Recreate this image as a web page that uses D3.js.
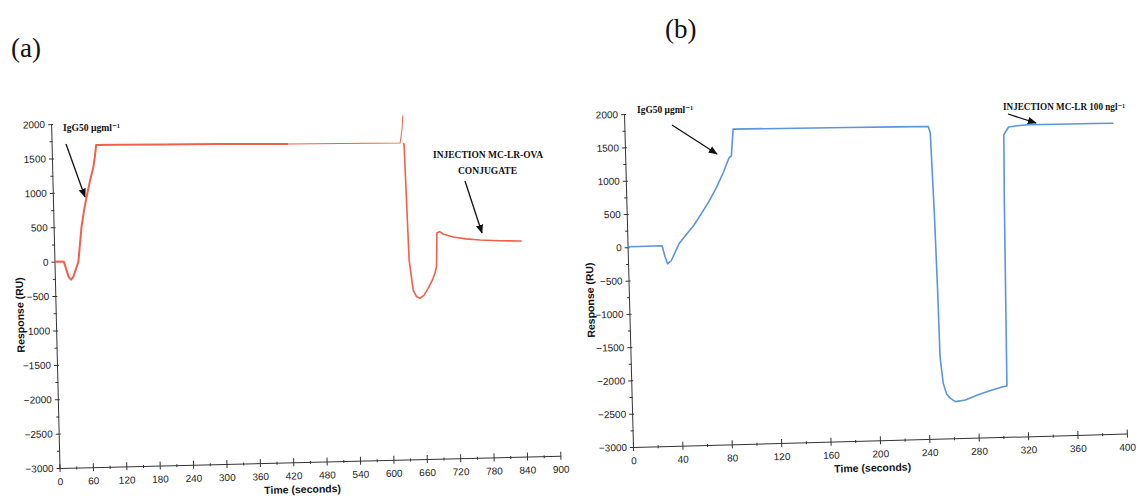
<!DOCTYPE html>
<html>
<head>
<meta charset="utf-8">
<script src="https://cdn.jsdelivr.net/npm/d3@7"></script>
<style>
  body { margin: 0; background: #fff; }
  .tick text { font-family: "Liberation Sans", Arial, sans-serif; font-size: 10px; fill: #222; }
  .atitle { font-family: "Liberation Sans", Arial, sans-serif; font-size: 10.5px; font-weight: bold; fill: #111; }
  .note { font-family: "Liberation Serif", "DejaVu Serif", "Times New Roman", serif; font-weight: bold; fill: #111; }
  .panel { font-family: "Liberation Serif", "Times New Roman", serif; font-size: 27px; fill: #111; }
</style>
</head>
<body>
<svg id="fig" width="1137" height="497"></svg>
<script>
// panel (a): IgG binding then MC-LR-OVA conjugate injection
const timeA = [0, 10, 17, 21, 25, 29, 33, 38, 43, 50, 56, 62, 68, 74, 77, 80, 120, 200, 300, 380, 425];
const respA = [0, 0, -5, -120, -230, -268, -230, -120, -10, 490, 760, 980, 1180, 1360, 1500, 1680, 1676, 1665, 1650, 1636, 1626];
const timeA2 = [425, 520, 626, 630, 632];            // thin section + spike
const respA2 = [1626, 1615, 1602, 1800, 2000];
const timeA3 = [632, 633, 637, 643, 649, 655, 662, 670, 678, 683, 686, 688, 693, 700, 717, 740, 765, 800, 840];
const respA3 = [1600, 1570, -100, -540, -640, -660, -620, -520, -400, -300, -200, 280, 300, 260, 217, 185, 163, 146, 134];

// panel (b): IgG binding then MC-LR 100 ng/l injection
const timeB = [0, 10, 20, 28, 30, 32, 35, 42, 48, 54, 61, 68, 74, 79, 84, 86, 88, 100, 140, 180, 220, 246, 247.5, 249, 250, 250.5, 252.5, 255, 258, 262, 270, 280, 290, 300, 304, 305, 306, 307, 311, 318, 327, 350, 380, 396];
const respB = [8, 6, 8, 7, -150, -265, -220, 40, 170, 300, 490, 690, 890, 1080, 1300, 1330, 1731, 1728, 1718, 1708, 1698, 1691, 1591, 400, -765, -1768, -2169, -2330, -2400, -2450, -2430, -2358, -2300, -2250, -2235, -800, 600, 1536, 1650, 1665, 1676, 1672, 1668, 1665];

const ticksA = d3.range(0, 901, 60);
const ticksB = d3.range(0, 401, 40);
const ticksY = d3.range(-3000, 2001, 500);

const svg = d3.select("#fig");

function panel(o) {
  const g = svg.append("g")
      .attr("transform", "translate(" + o.ox + "," + o.oy + ") rotate(" + o.angle + ") translate(0," + (-o.h) + ")");

  const x = d3.scaleLinear().domain(o.xdom).range([0, o.w]);
  const y = d3.scaleLinear().domain([-3000, 2000]).range([o.h, 0]);

  // minor ticks
  g.append("g")
      .attr("transform", "translate(0," + o.h + ")")
      .call(d3.axisBottom(x).tickValues(o.minorX).tickSize(2).tickSizeOuter(0).tickFormat(""))
      .call(a => a.select(".domain").remove())
      .selectAll("line").attr("y1", -1).attr("stroke", "#333");
  g.append("g")
      .call(d3.axisLeft(y).tickValues(d3.range(-2750, 2000, 500)).tickSize(2).tickFormat(""))
      .call(a => a.select(".domain").remove())
      .selectAll("line").attr("x1", 1).attr("stroke", "#333");

  const xa = g.append("g")
      .attr("transform", "translate(0," + o.h + ")")
      .call(d3.axisBottom(x).tickValues(o.ticks).tickSize(4).tickPadding(6).tickSizeOuter(0).tickFormat(d3.format("d")));
  xa.selectAll(".tick line").attr("y1", -4).attr("stroke", "#333");
  xa.select(".domain").attr("stroke", "#333");

  const ya = g.append("g")
      .call(d3.axisLeft(y).tickValues(ticksY).tickSize(3).tickPadding(3).tickSizeOuter(0).tickFormat(d3.format("d")));
  ya.selectAll(".tick line").attr("x1", 2).attr("stroke", "#333");
  ya.select(".domain").attr("stroke", "#333");

  const line = d3.line().x(d => x(d[0])).y(d => y(d[1]));
  o.series.forEach(s => {
    g.append("path")
        .datum(d3.zip(s.t, s.v))
        .attr("fill", "none")
        .attr("stroke", o.color)
        .attr("stroke-width", s.sw)
        .attr("stroke-linejoin", "round")
        .attr("d", line);
  });

  g.append("text")
      .attr("class", "atitle")
      .attr("transform", "translate(" + o.ytx + "," + o.yty + ") rotate(-90)")
      .attr("text-anchor", "middle")
      .text("Response (RU)");
  g.append("text")
      .attr("class", "atitle")
      .attr("x", o.w / 2 - 8)
      .attr("y", o.h + o.xty)
      .attr("text-anchor", "middle")
      .text("Time (seconds)");
}

panel({
  ox: 59.5, oy: 468, w: 501, h: 344, angle: -1.4,
  xdom: [0, 900], ticks: ticksA, minorX: d3.range(30, 900, 60),
  color: "#f0604c",
  ytx: -32, yty: 190, xty: 31,
  series: [{t: timeA, v: respA, sw: 2}, {t: timeA2, v: respA2, sw: 1}, {t: timeA3, v: respA3, sw: 1.6}]
});

panel({
  ox: 633, oy: 447, w: 494, h: 333, angle: -1.55,
  xdom: [0, 400], ticks: ticksB, minorX: d3.range(20, 400, 40),
  color: "#5b95dc",
  ytx: -35, yty: 185, xty: 31,
  series: [{t: timeB, v: respB, sw: 1.6}]
});

// arrows and notes
const defs = svg.append("defs");
defs.append("marker")
    .attr("id", "ah")
    .attr("viewBox", "0 0 10 10")
    .attr("refX", 9).attr("refY", 5)
    .attr("markerWidth", 7).attr("markerHeight", 7)
    .attr("orient", "auto")
  .append("path")
    .attr("d", "M0,1 L10,5 L0,9 z")
    .attr("fill", "#111");

const arrows = [[66, 144, 85, 197], [465, 181, 482, 233], [672, 125, 717, 154], [1008, 114, 1036, 123]];
svg.selectAll(".arr")
  .data(arrows)
  .enter()
  .append("line")
    .attr("x1", d => d[0]).attr("y1", d => d[1])
    .attr("x2", d => d[2]).attr("y2", d => d[3])
    .attr("stroke", "#111")
    .attr("stroke-width", 1.3)
    .attr("marker-end", "url(#ah)");

function note(xp, yp, txt, len, fs) {
  svg.append("text")
      .attr("class", "note")
      .attr("x", xp).attr("y", yp)
      .style("font-size", fs + "px")
      .attr("textLength", len)
      .attr("lengthAdjust", "spacingAndGlyphs")
      .text(txt);
}
note(63, 131, "IgG50 μgml⁻¹", 57, 11);
note(433, 158, "INJECTION MC-LR-OVA", 110, 10.5);
note(458, 174, "CONJUGATE", 59, 10.5);
note(637, 113, "IgG50 μgml⁻¹", 56, 11);
note(1003, 110, "INJECTION MC-LR 100 ngl⁻¹", 122, 9.5);

svg.append("text").attr("class", "panel").attr("x", 11).attr("y", 57).text("(a)");
svg.append("text").attr("class", "panel").attr("x", 665).attr("y", 38).text("(b)");
</script>
</body>
</html>
